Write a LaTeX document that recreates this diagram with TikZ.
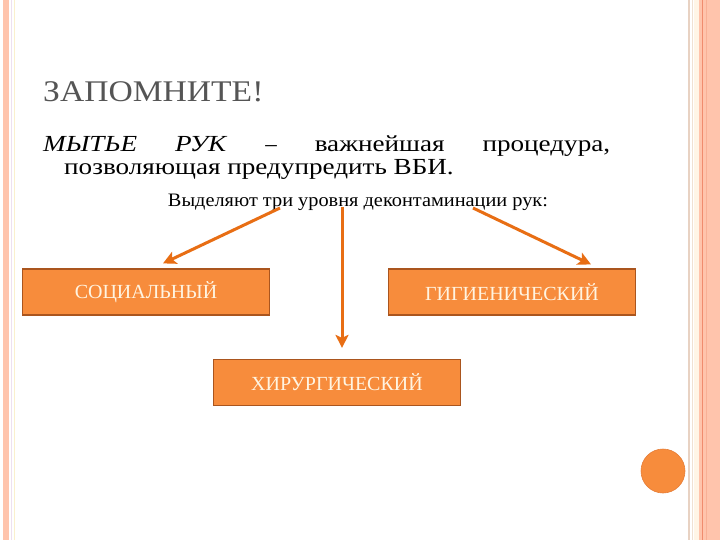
\documentclass[tikz,border=0pt]{standalone}
\usepackage{fontspec}
\usepackage{graphicx}
\setmainfont{Liberation Serif}
\usetikzlibrary{arrows.meta}
\definecolor{salmon}{RGB}{255,196,172}
\definecolor{salmondark}{RGB}{240,140,110}
\definecolor{boxfill}{RGB}{247,140,60}
\definecolor{boxedge}{RGB}{170,85,30}
\definecolor{arrowc}{RGB}{232,110,20}
\definecolor{titlegray}{RGB}{85,85,85}
\definecolor{boxtext}{RGB}{255,244,225}
\newcommand{\wideby}[2]{\scalebox{#1}[1]{#2}}
\tikzset{
  levelbox/.style={draw=boxedge, line width=1.2pt, fill=boxfill, minimum width=247pt, minimum height=46pt, inner sep=0pt, text=boxtext, font=\fontsize{20}{24}\selectfont},
  arr/.style={draw=arrowc, line width=3pt, -{Stealth[length=13pt,width=13pt,inset=3pt]}},
}
\begin{document}
\begin{tikzpicture}[x=1pt,y=-1pt]
\useasboundingbox (0,0) rectangle (720,540);
\fill[white] (0,0) rectangle (720,540);
% left border
\fill[salmon] (3,0) rectangle (9,540);
\draw[color={rgb,255:red,238;green,224;blue,240}, line width=1pt] (11.5,0) -- (11.5,540);
\draw[color={rgb,255:red,250;green,240;blue,205}, line width=1pt] (14.5,0) -- (14.5,540);
% right border
\draw[color={rgb,255:red,232;green,210;blue,195}, line width=1.5pt] (689,0) -- (689,540);
\draw[color={rgb,255:red,240;green,225;blue,210}, line width=1pt] (692.5,0) -- (692.5,540);
\fill[color={rgb,255:red,255;green,245;blue,230}] (694,0) rectangle (699,540);
\fill[salmon] (699,0) rectangle (720,540);
\draw[salmondark, line width=1.2pt] (702.5,0) -- (702.5,540);
\draw[color={rgb,255:red,248;green,176;blue,150}, line width=1pt] (706.5,0) -- (706.5,540);
% texts
\node[anchor=base west, inner sep=0pt, text=titlegray, font=\fontsize{30}{34}\selectfont] (title) at (43,102) {\wideby{1.12}{ЗАПОМНИТЕ!}};
\node[anchor=base west, inner sep=0pt, font=\fontsize{23}{27}\selectfont] (line1) at (43,152) {\makebox[567pt][s]{\wideby{1.18}{\textit{МЫТЬЕ}} \wideby{1.18}{\textit{РУК}} – \wideby{1.18}{важнейшая} \wideby{1.18}{процедура,}}};
\node[anchor=base west, inner sep=0pt, font=\fontsize{23}{27}\selectfont] (line2) at (64,175) {\wideby{1.18}{позволяющая предупредить ВБИ.}};
\node[anchor=base, inner sep=0pt, font=\fontsize{19}{22}\selectfont] (sub) at (358,207) {\wideby{1.07}{Выделяют три уровня деконтаминации рук:}};
% boxes
\node[levelbox] (soc) at (146,292) {СОЦИАЛЬНЫЙ};
\node[levelbox] (gig) at (512,292) {ГИГИЕНИЧЕСКИЙ};
\node[levelbox] (hir) at (337,382.5) {ХИРУРГИЧЕСКИЙ};
% arrows
\coordinate (s1) at (280,208);
\coordinate (s2) at (342,207);
\coordinate (s3) at (473,208);
\draw[arr] (s1) -- ([shift={(17,-5)}]soc.north);
\draw[arr] (s2) -- ([shift={(5,-11)}]hir.north);
\draw[arr] (s3) -- ([shift={(79,-4)}]gig.north);
% circle
\node[circle, fill=boxfill, draw={rgb,255:red,230;green,125;blue,55}, line width=0.6pt, minimum size=44pt, inner sep=0pt] (dot) at (663,471) {};
\end{tikzpicture}
\end{document}
